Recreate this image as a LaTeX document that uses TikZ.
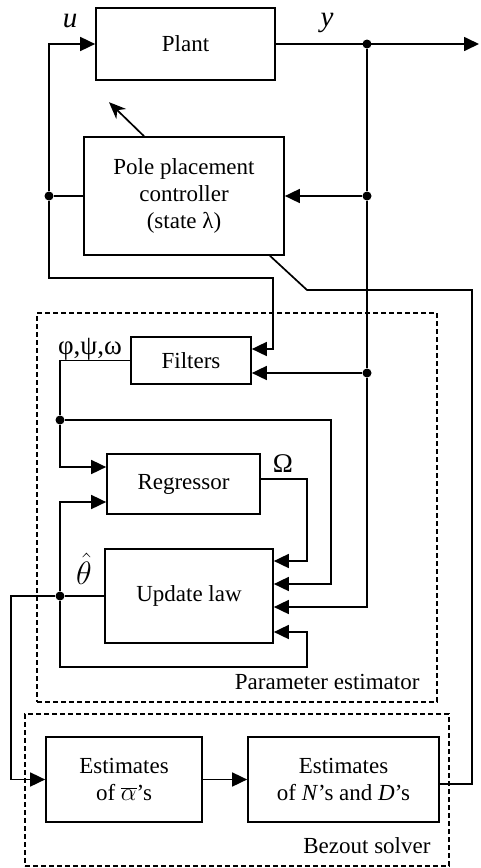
\documentclass[tikz,border=0pt]{standalone}
\usepackage{fontspec}
\setmainfont{Liberation Serif}
\usetikzlibrary{arrows.meta}
\begin{document}
\begin{tikzpicture}[x=1pt,y=-1pt,
  every node/.style={font=\fontsize{23}{27}\selectfont},
  blk/.style={draw,line width=1.7pt,align=center,inner sep=0pt},
  ln/.style={line width=1.7pt},
  arr/.style={ln,-{Triangle[length=15pt,width=14pt]}},
  dot/.style={circle,fill,inner sep=0pt,minimum size=9pt},
  grp/.style={draw,line width=1.3pt,dash pattern=on 5pt off 3pt,inner sep=0pt},
  lbl/.style={font=\fontsize{27}{30}\selectfont},
]
\useasboundingbox (0,0) rectangle (480,868);
% groups
\node[grp,minimum width=400pt,minimum height=389pt] (pe) at (237,507.5) {};
\node[grp,minimum width=424pt,minimum height=152pt] (bs) at (237,790) {};
\node[anchor=base east] (pelab) at (423,689) {Parameter estimator};
\node[anchor=base east] (bslab) at (434,853) {Bezout solver};
% blocks
\node[blk,minimum width=179pt,minimum height=72pt] (plant) at (185.5,44) {Plant};
\node[blk,minimum width=200pt,minimum height=118pt] (pole) at (184,196) {Pole placement\\controller\\(state λ)};
\node[blk,minimum width=120pt,minimum height=47pt] (filt) at (191,360.5) {Filters};
\node[blk,minimum width=153pt,minimum height=60pt] (reg) at (183.5,484) {Regressor};
\node[blk,minimum width=168pt,minimum height=94pt] (upd) at (189,596) {Update law};
\node[blk,minimum width=156pt,minimum height=85pt] (alp) at (124,779.5) {Estimates\\of $\overline{\alpha}$’s};
\node[blk,minimum width=191pt,minimum height=85pt] (nd) at (343.5,779.5) {Estimates\\of \textit{N}’s and \textit{D}’s};
% junctions
\node[dot] (j1) at (367,44) {};
\node[dot] (j2) at (367,196) {};
\node[dot] (j3) at (367,373) {};
\node[dot] (j4) at (49,196) {};
\node[dot] (j5) at (60,420) {};
\node[dot] (j6) at (60,596) {};
\coordinate (ytip) at (479,44);
% labels
\node[font=\fontsize{29}{32}\selectfont\itshape,inner sep=0pt] (ulab) at (70,21) {u};
\node[font=\fontsize{29}{32}\selectfont\itshape,inner sep=0pt] (ylab) at (327,23) {y};
\node[lbl,anchor=base,inner sep=0pt] (fwlab) at (90,354) {φ,ψ,ω};
\node[lbl,anchor=base,inner sep=0pt] (omlab) at (283,472) {Ω};
\node[font=\fontsize{24.88}{30}\selectfont,inner sep=0pt] (thlab) at (84,569) {\scalebox{1.3}{$\hat{\theta}$}};
% connectors
\draw[arr] (plant.east) -- (ytip);
\draw[ln] (j1) -- (j2);
\draw[ln] (j2) -- (j3);
\draw[arr] (j3) |- (upd.east|-0,607);
\draw[arr] (j2) -- (pole.east);
\draw[arr] (j3) -- (filt.east|-j3);
\draw[ln] (pole.west) -- (j4);
\draw[arr] (j4) |- (plant.west);
\draw[arr] (j4) -- (49,278) -| (273,349) -- (filt.east|-0,349);
\draw[ln,-{Stealth[length=17pt,width=14pt]}] ([xshift=-40pt]pole.north) -- ++(-35,-34);
\draw[ln] ([xshift=86pt]pole.south) -- (307,290) -- (472,290) |- (nd.east|-0,784);
\draw[ln] (filt.west) -| (j5);
\draw[arr] (j5) |- (reg.west|-0,467);
\draw[arr] (j5) -- (331,420) |- (upd.east|-0,584);
\draw[arr] (reg.east|-0,479) -- (307,479) |- (upd.east|-0,561);
\draw[ln] (upd.west) -- (j6);
\draw[arr] (j6) |- (reg.west|-0,502);
\draw[arr] (j6) -- (60,667) -| (307,632) -- (upd.east|-0,632);
\draw[arr] (j6) -- (11,596) |- (alp.west);
\draw[arr] (alp) -- (nd);
\end{tikzpicture}
\end{document}
